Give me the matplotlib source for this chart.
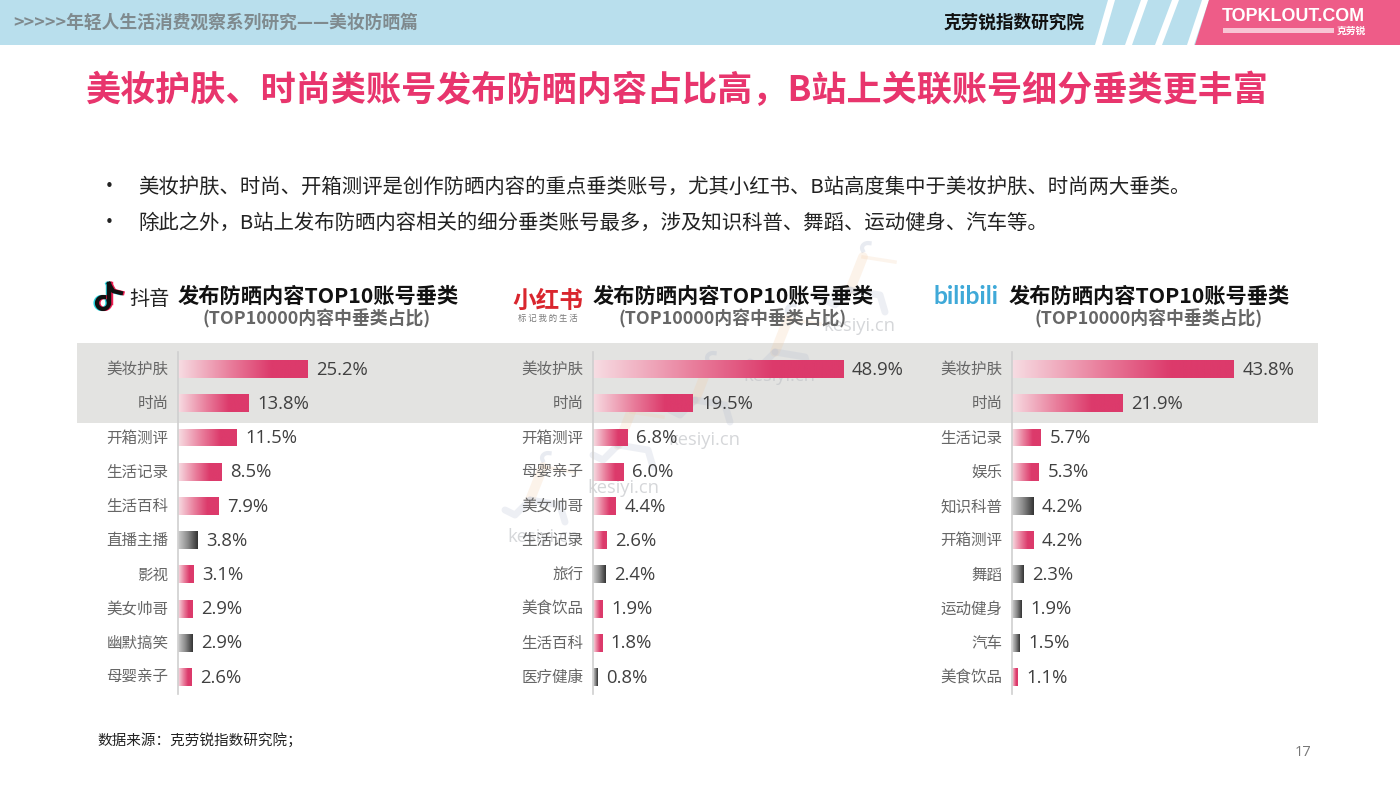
import numpy as np
import matplotlib
matplotlib.use('Agg')
import matplotlib.pyplot as plt
from matplotlib.colors import LinearSegmentedColormap
from matplotlib.patches import Polygon, Rectangle
from matplotlib.transforms import offset_copy

plt.rcParams['font.family'] = ['Noto Sans CJK SC', 'DejaVu Sans']

# Datos de los tres paneles
douyin_cats = ['美妆护肤', '时尚', '开箱测评', '生活记录', '生活百科', '直播主播', '影视', '美女帅哥', '幽默搞笑', '母婴亲子']
douyin_vals = [25.2, 13.8, 11.5, 8.5, 7.9, 3.8, 3.1, 2.9, 2.9, 2.6]
douyin_dark = ['直播主播', '幽默搞笑']

xhs_cats = ['美妆护肤', '时尚', '开箱测评', '母婴亲子', '美女帅哥', '生活记录', '旅行', '美食饮品', '生活百科', '医疗健康']
xhs_vals = [48.9, 19.5, 6.8, 6.0, 4.4, 2.6, 2.4, 1.9, 1.8, 0.8]
xhs_dark = ['旅行', '医疗健康']

bili_cats = ['美妆护肤', '时尚', '生活记录', '娱乐', '知识科普', '开箱测评', '舞蹈', '运动健身', '汽车', '美食饮品']
bili_vals = [43.8, 21.9, 5.7, 5.3, 4.2, 4.2, 2.3, 1.9, 1.5, 1.1]
bili_dark = ['知识科普', '舞蹈', '运动健身', '汽车']

header_text = '>>>>>年轻人生活消费观察系列研究——美妆防晒篇'
title_text = '美妆护肤、时尚类账号发布防晒内容占比高，B站上关联账号细分垂类更丰富'
bullet_1 = '美妆护肤、时尚、开箱测评是创作防晒内容的重点垂类账号，尤其小红书、B站高度集中于美妆护肤、时尚两大垂类。'
bullet_2 = '除此之外，B站上发布防晒内容相关的细分垂类账号最多，涉及知识科普、舞蹈、运动健身、汽车等。'
panel_title = '发布防晒内容TOP10账号垂类'
panel_sub = '(TOP10000内容中垂类占比)'

W, H = 1400, 788
PINK = '#E8356D'

pink_cmap = LinearSegmentedColormap.from_list('pink', [(0, '#F7DDE3'), (0.4, '#E97E9C'), (0.72, '#DC3A6B'), (1, '#DC3A6B')])
dark_cmap = LinearSegmentedColormap.from_list('dark', ['#CFCFCF', '#8a8a8a', '#333333'])

fig = plt.figure(figsize=(14, 7.88), dpi=100, facecolor='white')

# Eje de fondo en pixeles para la decoracion de la pagina
bg = fig.add_axes([0, 0, 1, 1])
bg.set_xlim(0, W)
bg.set_ylim(H, 0)
bg.axis('off')

# Banda superior
bg.add_patch(Rectangle((0, 0), W, 45, color='#B9DFED', lw=0))
for xb, xt in [(1095, 1108), (1125, 1141), (1155, 1172), (1187, 1202)]:
    bg.add_patch(Polygon([(xb, 45), (xb + 7, 45), (xt + 7, 0), (xt, 0)], color='white', lw=0))
bg.add_patch(Polygon([(1195, 45), (1209, 0), (W, 0), (W, 45)], color='#EE5C88', lw=0))
bg.text(13, 23, header_text, fontsize=12.8, fontweight='bold', color='#7F8A8E', va='center')
bg.text(944, 23, '克劳锐指数研究院', fontsize=12.7, fontweight='bold', color='#111111', va='center')
bg.text(1222, 16, 'TOPKLOUT.COM', fontsize=12.9, fontweight='bold', color='white', va='center', family='Liberation Sans')
bg.add_patch(Rectangle((1223, 28), 111, 5, color='#F8C4D4', lw=0))
bg.text(1337, 31, '克劳锐', fontsize=7, fontweight='bold', color='white', va='center')

# Titulo y texto
bg.text(86, 90, title_text, fontsize=25.25, fontweight='bold', color=PINK, va='center')
bg.text(99, 187, '•', fontsize=15, color='#222222', va='center')
bg.text(99, 223, '•', fontsize=15, color='#222222', va='center')
bg.text(138, 187, bullet_1, fontsize=14.68, color='#222222', va='center')
bg.text(138, 223, bullet_2, fontsize=14.68, color='#222222', va='center')

# Franja gris detras de las dos primeras filas
bg.add_patch(Rectangle((77, 343), 1241, 80, color='#E3E3E1', lw=0))


# Figuras de la marca de agua, casi transparentes
def corredor(hx, hy, s=1.0):
    azul = dict(color='#AEB8CE', lw=5, alpha=0.22, solid_capstyle='round', zorder=1)
    naranja = dict(color='#F3C9A0', lw=7, alpha=0.22, solid_capstyle='round', zorder=1)
    bg.plot([hx, hx + 13 * s], [hy, hy - 33 * s], **naranja)
    bg.plot([hx + 13 * s, hx + 45 * s], [hy - 33 * s, hy - 28 * s], color='#F3C9A0', lw=2.5, alpha=0.2, zorder=1)
    bg.plot([hx, hx + 30 * s, hx + 35 * s], [hy, hy + 5 * s, hy + 22 * s], **azul)
    bg.plot([hx, hx - 15 * s, hx - 25 * s], [hy, hy + 15 * s, hy + 10 * s], **azul)
    t = np.radians(np.arange(150, 300, 15))
    bg.plot(hx + 18 * s + 6 * s * np.cos(t), hy - 42 * s + 5 * s * np.sin(t), color='#AEB8CE', lw=3, alpha=0.28, zorder=1)


for hx, hy in [(850, 290), (775, 352), (695, 400), (530, 500), (618, 445)]:
    corredor(hx, hy)

# Marcas de agua de texto
for wx, wy in [(823, 326), (743, 376), (668, 440), (587, 488), (507, 537)]:
    bg.text(wx, wy, 'kesiyi.cn', fontsize=13.2, color='#C4C6CA', alpha=0.7, va='center', family='Open Sans', zorder=1)

# Logo de Douyin
for dx, col in [(-1.5, '#25D5DF'), (1.5, '#EE1D52'), (0, '#111111')]:
    t = np.radians(np.arange(-20, 290, 10))
    bg.plot(103 + dx + 6 * np.cos(t), 303 + 6 * np.sin(t), color=col, lw=3, zorder=3)
    bg.plot([109 + dx, 109 + dx], [303, 284], color=col, lw=3.2, zorder=3)
    bg.plot([109 + dx, 113 + dx, 121 + dx], [284, 291, 293], color=col, lw=3, zorder=3)
bg.text(129, 299, '抖音', fontsize=14.5, color='#222222', va='center')

# Logo de Xiaohongshu
bg.text(548, 301, '小红书', fontsize=17, fontweight='bold', color='#D9262E', va='center', ha='center')
bg.text(548, 318, '标 记 我 的 生 活', fontsize=6, color='#777777', va='center', ha='center')

# Logo de Bilibili
bg.text(966, 296, 'bilibili', fontsize=17.8, fontweight='bold', color='#3FA9D8', va='center', ha='center', family='Lato')

bg.text(97, 741, '数据来源：克劳锐指数研究院；', fontsize=10.5, color='#222222', va='center')
bg.text(1295, 752, '17', fontsize=10.5, color='#777777', va='center', family='Open Sans')


# Funcion para dibujar un panel de barras con gradiente
def dibujar_panel(x0, escala, cats, vals, dark, title_x, sub_x):
    ancho = 300
    ax = fig.add_axes([x0 / W, 1 - 694 / H, ancho / W, 342 / H], facecolor='none')
    xmax = ancho / escala
    y = np.arange(len(cats))
    bars = ax.barh(y, vals, height=18 / 34.2, color='none', lw=0)
    for bar, cat, val in zip(bars, cats, vals):
        cmap = dark_cmap if cat in dark else pink_cmap
        grad = np.linspace(0, 1, 256).reshape(1, -1)
        im = ax.imshow(grad, cmap=cmap, aspect='auto', zorder=2,
                       extent=[0, val, bar.get_y() + bar.get_height(), bar.get_y()])
        im.set_clip_path(bar)
        ax.annotate(f'{val}%', (val, bar.get_y() + bar.get_height() / 2), xytext=(6.2, -0.5),
                    textcoords='offset points', va='center', ha='left', fontsize=13.3,
                    color='#404040', family=['Open Sans', 'DejaVu Sans'])
    ax.set_xlim(0, xmax)
    ax.set_ylim(len(cats) - 0.5, -0.5)
    ax.set_yticks(y)
    ax.set_yticklabels(cats, fontsize=11.2, color='#666666', va='center')
    ax.set_xticks([])
    ax.tick_params(axis='y', length=0, pad=7)
    # Ajustar un poco la altura de las etiquetas de categoria
    for lab in ax.get_yticklabels():
        lab.set_transform(offset_copy(lab.get_transform(), fig=fig, y=-0.5, units='points'))
    for lado in ['top', 'right', 'bottom']:
        ax.spines[lado].set_visible(False)
    ax.spines['left'].set_color('#CFCFCF')
    ax.spines['left'].set_linewidth(1.2)
    bg.text(title_x, 296, panel_title, fontsize=15.3, fontweight='bold', color='#111111', va='center')
    bg.text(sub_x, 319, panel_sub, fontsize=12.9, fontweight='bold', color='#666666', va='center')


dibujar_panel(178, 5.13, douyin_cats, douyin_vals, douyin_dark, 178, 203)
dibujar_panel(593, 5.12, xhs_cats, xhs_vals, xhs_dark, 593, 619)
dibujar_panel(1012, 5.06, bili_cats, bili_vals, bili_dark, 1009, 1035)

fig.savefig('out.png', dpi=100)
